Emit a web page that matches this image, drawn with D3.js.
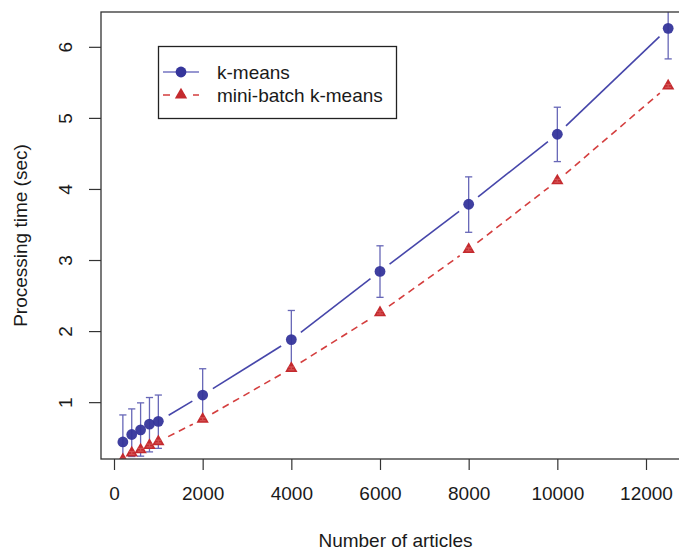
<!DOCTYPE html>
<html>
<head>
<meta charset="utf-8">
<script src="https://cdn.jsdelivr.net/npm/d3@7"></script>
<style>
  body { margin: 0; background: #fff; }
  svg text { font-family: "Liberation Sans", Arial, sans-serif; fill: #1a1a1a; }
</style>
</head>
<body>
<svg id="chart" width="679" height="550"></svg>
<script>
// Data ==================================================================
var articles = [200, 400, 600, 800, 1000, 2000, 4000, 6000, 8000, 10000, 12500];
// k-means mean time and error bar ends (sec)
var kmMean = [0.44, 0.545, 0.61, 0.69, 0.73, 1.10, 1.88, 2.84, 3.785, 4.77, 6.26];
var kmLow  = [0.06, 0.235, 0.24, 0.30, 0.35, 0.74, 1.48, 2.475, 3.39, 4.385, 5.83];
var kmHigh = [0.82, 0.905, 0.99, 1.065, 1.10, 1.47, 2.29, 3.20, 4.17, 5.15, 6.69];
// mini-batch k-means (tiny spread)
var mbMean = [0.19, 0.285, 0.33, 0.39, 0.445, 0.76, 1.475, 2.26, 3.15, 4.115, 5.45];
var mbLow  = [0.17, 0.265, 0.31, 0.37, 0.425, 0.74, 1.455, 2.24, 3.13, 4.095, 5.43];
var mbHigh = [0.21, 0.305, 0.35, 0.41, 0.465, 0.78, 1.495, 2.28, 3.17, 4.135, 5.47];

var xTicks = [0, 2000, 4000, 6000, 8000, 10000, 12000];
var yTicks = [1, 2, 3, 4, 5, 6];
var legendLabels = ["k-means", "mini-batch k-means"];

// Layout ================================================================
var box = { left: 101, top: 12, right: 690, bottom: 459 };
var blue = "#35359b", blueLine = "#4646aa", blueBar = "#5757b0";
var red = "#c42a2e", redLine = "#d43e3e";

var svg = d3.select("#chart");

var x = d3.scaleLinear().domain([0, 12000]).range([114, 646]);
var y = d3.scaleLinear().domain([0.2, 6.49]).range([box.bottom, box.top]);

svg.append("clipPath").attr("id", "plotClip")
  .append("rect")
  .attr("x", box.left).attr("y", box.top)
  .attr("width", box.right - box.left).attr("height", box.bottom - box.top);

var plot = svg.append("g").attr("clip-path", "url(#plotClip)");

// type="b" style lines: segments with a gap around each point
function gappedSegments(xs, ys, gap) {
  var segs = [];
  for (var i = 0; i < xs.length - 1; i++) {
    var x1 = x(xs[i]), y1 = y(ys[i]), x2 = x(xs[i+1]), y2 = y(ys[i+1]);
    var dx = x2 - x1, dy = y2 - y1, d = Math.sqrt(dx*dx + dy*dy);
    if (d <= 2 * gap) continue;
    var ux = dx / d, uy = dy / d;
    segs.push([x1 + ux*gap, y1 + uy*gap, x2 - ux*gap, y2 - uy*gap]);
  }
  return segs;
}

plot.selectAll("line.km").data(gappedSegments(articles, kmMean, 12))
  .enter().append("line").attr("class", "km")
  .attr("x1", function(d) { return d[0]; }).attr("y1", function(d) { return d[1]; })
  .attr("x2", function(d) { return d[2]; }).attr("y2", function(d) { return d[3]; })
  .style("stroke", blueLine).style("stroke-width", 1.6);

plot.selectAll("line.mb").data(gappedSegments(articles, mbMean, 11))
  .enter().append("line").attr("class", "mb")
  .attr("x1", function(d) { return d[0]; }).attr("y1", function(d) { return d[1]; })
  .attr("x2", function(d) { return d[2]; }).attr("y2", function(d) { return d[3]; })
  .style("stroke", redLine).style("stroke-width", 1.6)
  .style("stroke-dasharray", "7,5");

// error bars
function errorBars(cls, lows, highs, color, cap, alpha) {
  var g = plot.append("g").attr("class", cls)
    .style("stroke", color).style("stroke-width", 1.3).style("opacity", alpha);
  articles.forEach(function(a, i) {
    var cx = x(a);
    g.append("line").attr("x1", cx).attr("x2", cx)
      .attr("y1", y(lows[i])).attr("y2", y(highs[i]));
    g.append("line").attr("x1", cx - cap).attr("x2", cx + cap)
      .attr("y1", y(lows[i])).attr("y2", y(lows[i]));
    g.append("line").attr("x1", cx - cap).attr("x2", cx + cap)
      .attr("y1", y(highs[i])).attr("y2", y(highs[i]));
  });
}
errorBars("kmErr", kmLow, kmHigh, blueBar, 3.6, 0.9);

// points
plot.selectAll("circle.km").data(articles).enter().append("circle")
  .attr("class", "km")
  .attr("cx", function(d) { return x(d); })
  .attr("cy", function(d, i) { return y(kmMean[i]); })
  .attr("r", 5.4)
  .style("fill", blue).style("opacity", 0.95);

var tri = d3.symbol().type(d3.symbolTriangle).size(66);
plot.selectAll("path.mb").data(articles).enter().append("path")
  .attr("class", "mb")
  .attr("d", tri)
  .attr("transform", function(d, i) { return "translate(" + x(d) + "," + y(mbMean[i]) + ")"; })
  .style("fill", red);

errorBars("mbErr", mbLow, mbHigh, "#e06a6a", 3, 0.6);

// Axes ==================================================================
var xAxis = d3.axisBottom(x).tickValues(xTicks).tickSize(11).tickPadding(0).tickFormat(d3.format("d"));
var gx = svg.append("g").attr("transform", "translate(0," + box.bottom + ")").call(xAxis);
gx.select(".domain").remove();
gx.selectAll("line").style("stroke", "#333").style("stroke-width", 1.2);
gx.selectAll("text").attr("y", 41).attr("dy", null).style("font-size", "19px");

var yAxis = d3.axisLeft(y).tickValues(yTicks).tickSize(12).tickFormat(d3.format("d"));
var gy = svg.append("g").attr("transform", "translate(" + box.left + ",0)").call(yAxis);
gy.select(".domain").remove();
gy.selectAll("line").style("stroke", "#333").style("stroke-width", 1.2);
gy.selectAll("text")
  .attr("x", null).attr("dy", null)
  .attr("transform", "translate(-29,0) rotate(-90)")
  .style("text-anchor", "middle").style("font-size", "19px");

// plot box
svg.append("rect")
  .attr("x", box.left).attr("y", box.top)
  .attr("width", box.right - box.left).attr("height", box.bottom - box.top)
  .style("fill", "none").style("stroke", "#333").style("stroke-width", 1.3);

// axis titles
svg.append("text").attr("x", (box.left + box.right) / 2).attr("y", 547)
  .style("text-anchor", "middle").style("font-size", "19px")
  .text("Number of articles");
svg.append("text")
  .attr("transform", "translate(27," + ((box.top + box.bottom) / 2) + ") rotate(-90)")
  .style("text-anchor", "middle").style("font-size", "19px")
  .text("Processing time (sec)");

// Legend ================================================================
var lg = svg.append("g");
lg.append("rect").attr("x", 158.5).attr("y", 46.5).attr("width", 238).attr("height", 72)
  .style("fill", "#fff").style("stroke", "#222").style("stroke-width", 1.3);
var rows = [72, 95];
lg.append("line").attr("x1", 163).attr("x2", 199).attr("y1", rows[0]).attr("y2", rows[0])
  .style("stroke", "#7474c2").style("stroke-width", 1.6);
lg.append("circle").attr("cx", 181).attr("cy", rows[0]).attr("r", 5.4).style("fill", blue);
lg.append("line").attr("x1", 163).attr("x2", 199).attr("y1", rows[1]).attr("y2", rows[1])
  .style("stroke", redLine).style("stroke-width", 1.6).style("stroke-dasharray", "7,8");
lg.append("path").attr("d", tri).attr("transform", "translate(181," + rows[1] + ")").style("fill", red);
lg.selectAll("text.lab").data(legendLabels).enter().append("text")
  .attr("class", "lab")
  .attr("x", 217).attr("y", function(d, i) { return rows[i] + 7; })
  .style("font-size", "19px")
  .text(function(d) { return d; });
</script>
</body>
</html>
